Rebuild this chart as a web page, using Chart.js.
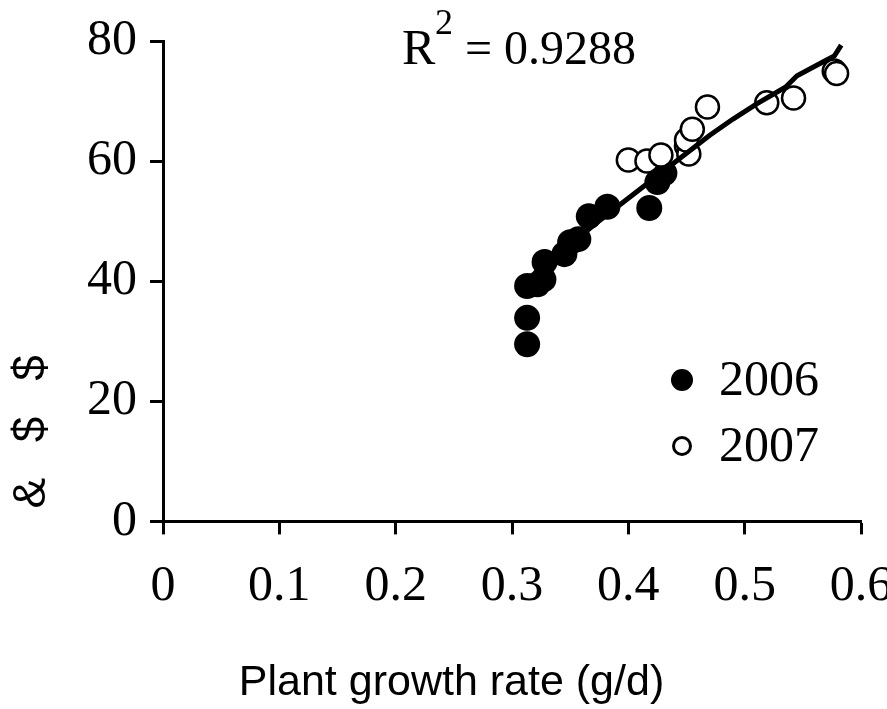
<!DOCTYPE html>
<html>
<head>
<meta charset="utf-8">
<script src="https://cdn.jsdelivr.net/npm/chart.js@4.4.1/dist/chart.umd.min.js"></script>
<style>
  body { margin: 0; overflow: hidden; background: #fff; }
  canvas { display: block; }
</style>
</head>
<body>
<canvas id="myChart" width="900" height="709"></canvas>
<script>
// values
const x_ticks = [0, 0.1, 0.2, 0.3, 0.4, 0.5, 0.6];
const y_ticks = [0, 20, 40, 60, 80];

const x_2006 = [0.313, 0.313, 0.313, 0.322, 0.327, 0.328, 0.345, 0.350, 0.357, 0.366, 0.382, 0.418, 0.425, 0.431];
const y_2006 = [29.5, 33.9, 39.2, 39.5, 40.3, 43.2, 44.5, 46.5, 47.0, 50.8, 52.4, 52.2, 56.5, 58.0];

const x_2007 = [0.400, 0.416, 0.428, 0.450, 0.452, 0.450, 0.455, 0.468, 0.519, 0.542, 0.577, 0.579];
const y_2007 = [60.2, 60.0, 61.0, 62.5, 61.2, 63.5, 65.3, 69.0, 69.7, 70.5, 75.0, 74.6];

const x_fit = [0.313, 0.33, 0.35, 0.37, 0.39, 0.41, 0.43, 0.45, 0.47, 0.49, 0.51, 0.535, 0.545, 0.57, 0.577, 0.583];
const y_fit = [38.8, 42.3, 46.0, 49.3, 52.3, 55.3, 58.3, 61.3, 64.3, 67.0, 69.5, 72.3, 74.2, 76.8, 77.5, 79.3];

const r_squared = "0.9288";
const x_title = "Plant growth rate (g/d)";
const y_title = " &\u2002 $\u2002 $";

const toPoints = (xs, ys) => xs.map((x, i) => ({ x: x, y: ys[i] }));

const serif = "Liberation Serif";

// legend and R² label drawn on top of the plot
const overlay = {
  id: "overlay",
  afterDraw(chart) {
    const ctx = chart.ctx;
    ctx.save();
    ctx.fillStyle = "black";
    ctx.textBaseline = "alphabetic";
    ctx.font = "50px " + serif;
    ctx.fillText("R", 402, 64);
    ctx.font = "36px " + serif;
    ctx.fillText("2", 435, 34);
    ctx.font = "48px " + serif;
    ctx.fillText("= " + r_squared, 465, 64);

    const sets = chart.data.datasets.filter(d => d.legendY);
    sets.forEach(d => {
      ctx.beginPath();
      ctx.arc(682, d.legendY, d.legendR, 0, Math.PI * 2);
      if (d.backgroundColor === "black") {
        ctx.fillStyle = "black";
        ctx.fill();
      } else {
        ctx.fillStyle = "white";
        ctx.fill();
        ctx.lineWidth = 3;
        ctx.strokeStyle = "black";
        ctx.stroke();
      }
      ctx.fillStyle = "black";
      ctx.textBaseline = "middle";
      ctx.font = "50px " + serif;
      ctx.fillText(d.label, 719, d.legendY + 2);
    });
    ctx.restore();
  }
};

const ctx = document.getElementById("myChart").getContext("2d");
const myChart = new Chart(ctx, {
  type: "scatter",
  data: {
    datasets: [
      {
        label: "fit",
        data: toPoints(x_fit, y_fit),
        showLine: true,
        borderColor: "black",
        borderWidth: 5,
        pointRadius: 0,
        tension: 0,
        order: 0,
      },
      {
        label: "2007",
        data: toPoints(x_2007, y_2007),
        backgroundColor: "white",
        borderColor: "black",
        borderWidth: 2.5,
        pointRadius: 11.5,
        order: 1,
        legendY: 446,
        legendR: 8.5,
      },
      {
        label: "2006",
        data: toPoints(x_2006, y_2006),
        backgroundColor: "black",
        borderColor: "black",
        borderWidth: 0,
        pointRadius: 13,
        order: 2,
        legendY: 380,
        legendR: 11,
      },
    ],
  },
  options: {
    responsive: false,
    devicePixelRatio: 1,
    animation: false,
    layout: { padding: { top: 41, right: 39, left: 42, bottom: 0 } },
    scales: {
      x: {
        type: "linear",
        min: 0,
        max: 0.6,
        afterBuildTicks: (s) => { s.ticks = x_ticks.map(v => ({ value: v })); },
        afterFit: (s) => { s.height = 100; s.paddingLeft = 0; s.paddingRight = 0; },
        ticks: {
          color: "black",
          font: { family: serif, size: 50 },
          padding: 22,
          callback: (v) => String(v),
        },
        grid: { drawOnChartArea: false, drawTicks: true, tickLength: 13, tickColor: "black", tickWidth: 3 },
        border: { display: true, color: "black", width: 3 },
      },
      y: {
        type: "linear",
        min: 0,
        max: 80,
        afterBuildTicks: (s) => { s.ticks = y_ticks.map(v => ({ value: v })); },
        afterFit: (s) => { s.width = 121; s.paddingTop = 0; s.paddingBottom = 0; },
        ticks: {
          color: "black",
          font: { family: serif, size: 50 },
          padding: 13,
        },
        title: {
          display: true,
          text: y_title,
          align: "start",
          color: "black",
          font: { family: "Liberation Sans", size: 46 },
          padding: { top: -37, bottom: 0 },
        },
        grid: { drawOnChartArea: false, drawTicks: true, tickLength: 13, tickColor: "black", tickWidth: 3 },
        border: { display: true, color: "black", width: 3 },
      },
    },
    plugins: {
      legend: { display: false },
      tooltip: { enabled: false },
      title: {
        display: true,
        position: "bottom",
        text: x_title,
        color: "black",
        font: { family: "Liberation Sans", size: 43, weight: "normal" },
        padding: { top: 36, bottom: 0 },
      },
    },
  },
  plugins: [overlay],
});
</script>
</body>
</html>
